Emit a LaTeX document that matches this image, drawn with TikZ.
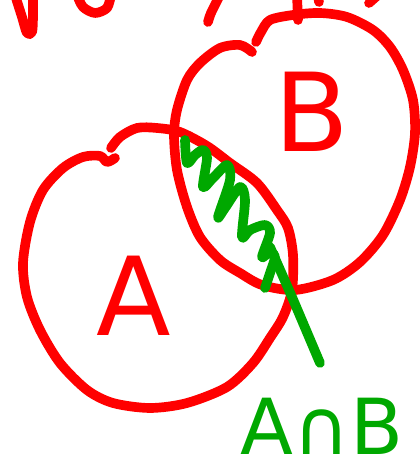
\documentclass[tikz,border=0pt]{standalone}
\usepackage{fontspec}
\usepackage{xcolor}
\usepackage{tikz}
\newfontfamily\handfont{DejaVu Sans}
\definecolor{penred}{RGB}{255,0,0}
\definecolor{pengreen}{RGB}{0,168,0}
\begin{document}
\begin{tikzpicture}[
  x=0.02cm,y=-0.02cm,
  ink/.style={draw=penred,line width=5.5pt,line cap=round,line join=round},
  hatch/.style={draw=pengreen,line width=5.5pt,line cap=round,line join=round},
  redlab/.style={text=penred,inner sep=0pt,font=\handfont\fontsize{62}{62}\selectfont},
  greenlab/.style={text=pengreen,inner sep=0pt,font=\handfont\fontsize{44}{44}\selectfont}
]
\useasboundingbox (0,0) rectangle (419,472);

% cut-off heading strokes
\begin{scope}
\clip (0,0) rectangle (419,472);
\draw[ink] plot[smooth] coordinates {(15,-5) (22,17) (27,33) (32,32) (33,17) (33,-5)};
\draw[ink] plot[smooth] coordinates {(77,-5) (83,7) (95,13) (107,8) (111,-5)};
\draw[ink] plot[smooth] coordinates {(220,-5) (211,13) (208,22)};
\draw[ink] (297,-5) -- (298,20);
\draw[ink] (318,-5) -- (319,2);
\draw[ink] (369,3) -- (378,-5);
\end{scope}

% set A
\draw[ink] plot[smooth] coordinates {(115,158) (107,162) (100,156) (83,157) (63,168)
  (43,190) (30,222) (23,263) (27,297) (40,330) (60,363) (87,390) (113,403) (150,408)
  (187,403) (227,387) (253,363) (270,338) (283,317) (292,290) (293,255) (288,228)
  (277,210) (257,183) (230,163) (207,146) (180,132) (157,128) (137,128) (120,137) (111,148)};

% set B
\draw[ink] plot[smooth] coordinates {(252,52) (240,45) (220,48) (200,63) (187,80)
  (177,110) (174,135) (177,170) (187,207) (200,237) (220,260) (240,273) (262,285)
  (295,290) (333,280) (360,262) (383,235) (400,200) (410,167) (415,133) (413,100)
  (403,70) (390,47) (373,30) (347,17) (320,13) (293,15) (270,20) (261,32) (256,42)};

% shading of the intersection
\draw[hatch] plot[smooth,tension=0.5] coordinates {(185,140) (187,163) (195,155) (203,150)
  (207,158) (203,187) (213,178) (227,165) (230,180) (218,217) (225,208) (240,187)
  (245,200) (242,237) (250,230) (265,225) (270,233) (262,257) (270,252) (275,257)
  (270,273) (265,288)};
\coordinate (lens) at (270,247);
\coordinate (tip) at (320,363);
\draw[hatch] (lens) -- (292,297) -- (tip);

\node[redlab] (labA) at (134,296) {A};
\node[redlab] (labB) at (312,112) {B};
\node[greenlab,anchor=south] (labAB) at (322,455) {A∩B};
\end{tikzpicture}
\end{document}
